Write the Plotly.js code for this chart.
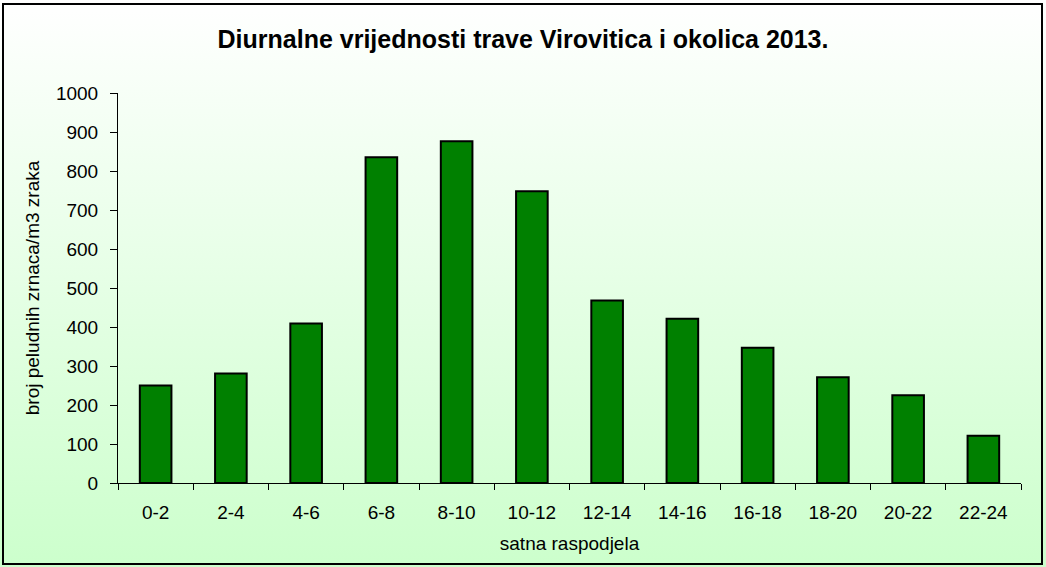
<!DOCTYPE html>
<html>
<head>
<meta charset="utf-8">
<script src="https://cdn.plot.ly/plotly-3.0.1.min.js"></script>
<style>
  html, body { margin: 0; padding: 0; }
  #wrap { position: relative; width: 1046px; height: 567px; background: linear-gradient(to bottom, #ffffff 0%, #ccffcc 100%); }
  #frame { position: absolute; left: 2px; top: 3px; width: 1037px; height: 558px; border: 2px solid #000; pointer-events: none; }
  #chart { position: absolute; left: 0; top: 0; width: 1046px; height: 567px; }
</style>
</head>
<body>
<div id="wrap">
  <div id="chart"></div>
  <div id="frame"></div>
</div>
<script>
const categories = ["0-2", "2-4", "4-6", "6-8", "8-10", "10-12", "12-14", "14-16", "16-18", "18-20", "20-22", "22-24"];
const values = [250, 281, 409, 835, 876, 748, 468, 421, 347, 271, 225, 121];
const titleText = "Diurnalne vrijednosti trave Virovitica i okolica 2013.";
const xTitle = "satna raspodjela";
const yTitle = "broj peludnih zrnaca/m3 zraka";

const font = "Liberation Sans, Arial, sans-serif";

Plotly.newPlot("chart", [{
  type: "bar",
  x: categories,
  y: values,
  marker: { color: "#008000", line: { color: "#000000", width: 2 } },
  hoverinfo: "x+y"
}], {
  width: 1046,
  height: 567,
  paper_bgcolor: "rgba(0,0,0,0)",
  plot_bgcolor: "rgba(0,0,0,0)",
  margin: { l: 118, r: 25, t: 93, b: 84 },
  bargap: 0.58,
  showlegend: false,
  title: {
    text: "<b>" + titleText + "</b>",
    font: { family: font, size: 25, color: "#000" },
    x: 0.5, xref: "container", xanchor: "center",
    y: 0.93, yref: "container", yanchor: "middle"
  },
  xaxis: {
    type: "category",
    showline: true, linecolor: "#000", linewidth: 1,
    ticks: "outside", tickson: "boundaries", ticklen: 6, tickcolor: "#000",
    ticklabelstandoff: 12,
    tickfont: { family: font, size: 19, color: "#000" },
    showgrid: false, zeroline: false,
    title: { text: xTitle, font: { family: font, size: 19, color: "#000" }, standoff: 14 }
  },
  yaxis: {
    range: [0, 1000],
    dtick: 100,
    showline: true, linecolor: "#000", linewidth: 1,
    ticks: "outside", ticklen: 7, tickcolor: "#000",
    ticklabelstandoff: 8,
    tickfont: { family: font, size: 19, color: "#000" },
    showgrid: false, zeroline: false,
    title: { text: yTitle, font: { family: font, size: 19, color: "#000" }, standoff: 11 }
  }
}, { displayModeBar: false });
</script>
</body>
</html>
